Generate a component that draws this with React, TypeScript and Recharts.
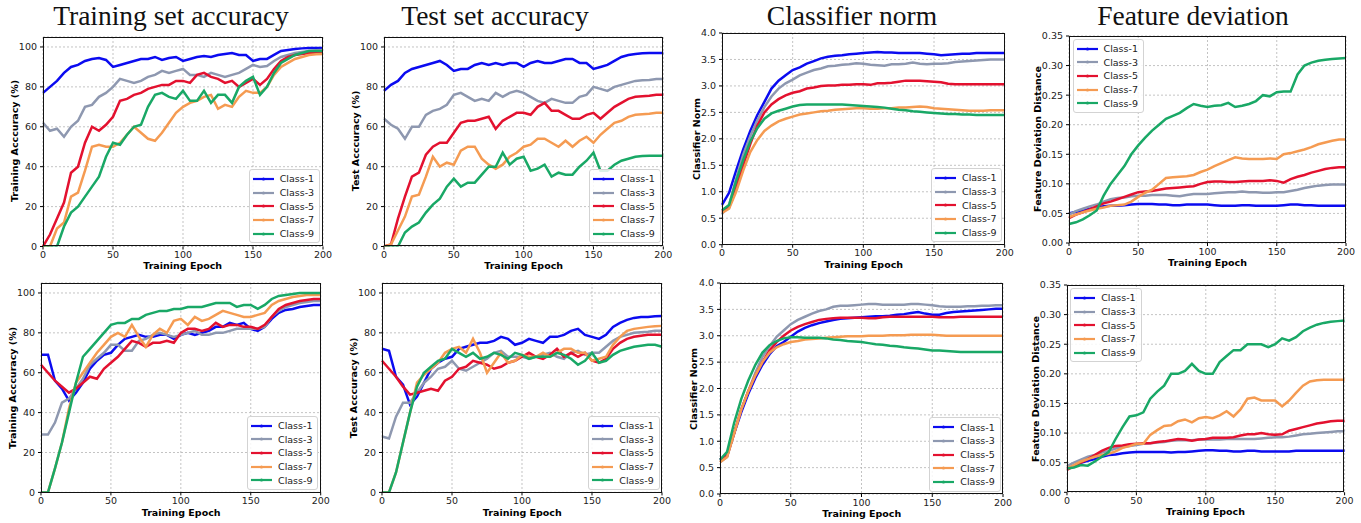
import React from 'react';
import { LineChart, Line, XAxis, YAxis, CartesianGrid } from 'recharts';

// epochs sampled every 5 steps
const EPOCHS = [
  0, 5, 10, 15, 20, 25, 30, 35, 40, 45, 50, 55, 60, 65, 70, 75, 80, 85, 90, 95, 100,
  105, 110, 115, 120, 125, 130, 135, 140, 145, 150, 155, 160, 165, 170, 175, 180, 185, 190, 195, 200,
];

const CLASS_NAMES = ['Class-1', 'Class-3', 'Class-5', 'Class-7', 'Class-9'];
const CLASS_COLORS = ['#0b0bf0', '#8e98b0', '#e3112f', '#f59b52', '#19a866'];

const X_TICKS = [0, 50, 100, 150, 200];
const ACC_TICKS = [0, 20, 40, 60, 80, 100];
const NORM_TICKS = [0, 0.5, 1, 1.5, 2, 2.5, 3, 3.5, 4];
const DEV_TICKS = [0, 0.05, 0.1, 0.15, 0.2, 0.25, 0.3, 0.35];

// ---- top row ----
const TRAIN_ACC_TOP = [
  [77, 80, 83, 87, 90, 91, 93, 94, 94.5, 93.5, 90, 91, 92, 93, 94, 94, 95, 93.5, 94.5, 95, 93, 94, 95, 95.5, 95, 96, 96.5, 97, 96, 96, 93, 94, 94, 96, 98, 98.5, 99, 99.3, 99.5, 99.5, 99.5],
  [62, 58, 59, 55, 60, 63, 70, 71, 75, 77, 80, 84, 83, 82, 83, 85, 86, 88, 87, 88, 89, 86, 86, 85, 87, 86, 85, 86, 87, 89, 91, 90, 90.5, 93, 95, 96, 97, 97.5, 98, 98.3, 98.5],
  [0, 6, 14, 22, 37, 40, 52, 60, 58, 61, 65, 73, 74, 76, 77, 79, 80, 81, 81, 83, 83, 82, 86, 87, 85, 84, 82, 83, 80, 82, 84, 81, 84, 89, 93, 95, 96, 96.5, 97, 97, 97],
  [0, 0, 9, 12, 25, 27, 38, 50, 51, 50, 50, 52, 56, 60, 57, 54, 53, 57, 62, 67, 70, 72, 73, 75, 76, 69, 71, 70, 75, 78, 77, 77, 80, 86, 90, 92, 94, 95, 96, 96.3, 96.5],
  [0, 0, 0, 10, 17, 20, 25, 30, 35, 45, 52, 51, 56, 60, 61, 70, 76, 77, 75, 74, 78, 73, 73, 78, 72, 76, 76, 72, 80, 83, 85, 76, 80, 87, 92, 94, 96, 97, 98, 98, 98],
];

const TEST_ACC_TOP = [
  [78, 81, 83, 87, 89, 90, 91, 92, 93, 91, 88, 89, 89, 91, 92, 91, 92, 91, 92, 92, 90, 92, 93, 92, 92, 93, 94, 94, 92, 92, 89, 90, 91, 93, 95, 96, 96.5, 96.8, 97, 97, 97],
  [64, 61, 59, 54, 60, 60, 66, 68, 69, 71, 76, 77, 75, 73, 74, 73, 77, 75, 77, 78, 77, 75, 73, 72, 74, 73, 72, 72, 75, 76, 80, 79, 78, 80, 81, 82, 83, 83.3, 83.5, 84, 84],
  [0, 1, 14, 25, 35, 37, 46, 50, 52, 52, 57, 62, 63, 63, 64, 65, 59, 63, 65, 67, 67, 66, 70, 72, 68, 68, 66, 64, 64, 66, 67, 64, 67, 70, 72, 74, 75, 75.3, 75.5, 76, 76],
  [0, 1, 8, 15, 25, 26, 35, 45, 40, 42, 41, 48, 50, 50, 44, 41, 39, 41, 45, 47, 50, 51, 54, 54, 52, 50, 53, 50, 53, 55, 52, 56, 59, 62, 63, 65, 66, 66.3, 66.5, 67, 67],
  [0, 0, 0, 7, 10, 12, 17, 21, 24, 30, 34, 30, 32, 32, 36, 40, 40, 47, 41, 44, 45, 38, 39, 41, 35, 37, 36, 36, 40, 43, 47, 38, 38, 41, 43, 44, 45, 45.3, 45.5, 45.5, 45.5],
];

const NORM_TOP = [
  [0.75, 0.98, 1.4, 1.8, 2.15, 2.45, 2.7, 2.95, 3.1, 3.2, 3.3, 3.35, 3.42, 3.47, 3.52, 3.55, 3.57, 3.58, 3.6, 3.61, 3.62, 3.63, 3.64, 3.63, 3.63, 3.62, 3.62, 3.62, 3.62, 3.61, 3.6, 3.58, 3.59, 3.6, 3.61, 3.61, 3.62, 3.62, 3.62, 3.62, 3.62],
  [0.58, 0.75, 1.25, 1.7, 2.05, 2.35, 2.6, 2.8, 2.95, 3.05, 3.12, 3.2, 3.25, 3.3, 3.33, 3.37, 3.38, 3.4, 3.41, 3.43, 3.42, 3.4, 3.39, 3.38, 3.41, 3.41, 3.42, 3.44, 3.42, 3.41, 3.42, 3.42, 3.43, 3.45, 3.46, 3.47, 3.48, 3.49, 3.5, 3.5, 3.5],
  [0.62, 0.7, 1.1, 1.5, 1.9, 2.25, 2.5, 2.65, 2.75, 2.82, 2.87, 2.9, 2.95, 2.97, 3.0, 3.01, 3.01, 3.02, 3.02, 3.03, 3.03, 3.02, 3.05, 3.05, 3.06, 3.08, 3.1, 3.1, 3.1, 3.09, 3.08, 3.07, 3.04, 3.03, 3.03, 3.03, 3.03, 3.03, 3.03, 3.03, 3.03],
  [0.6, 0.68, 1.0, 1.4, 1.75, 1.98, 2.15, 2.25, 2.33, 2.38, 2.42, 2.46, 2.48, 2.5, 2.52, 2.53, 2.55, 2.56, 2.57, 2.58, 2.58, 2.57, 2.57, 2.58, 2.58, 2.59, 2.59, 2.6, 2.61, 2.6, 2.58, 2.57, 2.56, 2.55, 2.54, 2.53, 2.53, 2.53, 2.54, 2.54, 2.54],
  [0.65, 0.75, 1.2, 1.6, 1.95, 2.2, 2.38, 2.48, 2.53, 2.57, 2.61, 2.64, 2.65, 2.65, 2.65, 2.65, 2.65, 2.65, 2.64, 2.63, 2.62, 2.61, 2.6, 2.59, 2.57, 2.55, 2.54, 2.52, 2.51, 2.5, 2.49, 2.48, 2.47, 2.47, 2.46, 2.46, 2.45, 2.45, 2.45, 2.45, 2.45],
];

const DEV_TOP = [
  [0.05, 0.053, 0.055, 0.058, 0.06, 0.062, 0.063, 0.063, 0.064, 0.065, 0.066, 0.066, 0.066, 0.065, 0.065, 0.064, 0.064, 0.065, 0.065, 0.065, 0.065, 0.064, 0.063, 0.063, 0.063, 0.064, 0.064, 0.063, 0.063, 0.063, 0.063, 0.064, 0.065, 0.065, 0.064, 0.064, 0.063, 0.063, 0.063, 0.063, 0.063],
  [0.048, 0.054, 0.058, 0.062, 0.065, 0.07, 0.074, 0.076, 0.077, 0.079, 0.08, 0.08, 0.081, 0.081, 0.081, 0.08, 0.079, 0.081, 0.083, 0.083, 0.083, 0.084, 0.085, 0.086, 0.086, 0.087, 0.086, 0.086, 0.085, 0.085, 0.086, 0.086, 0.088, 0.09, 0.093, 0.095, 0.097, 0.098, 0.099, 0.099, 0.099],
  [0.042, 0.048, 0.052, 0.057, 0.062, 0.067, 0.07, 0.074, 0.078, 0.082, 0.086, 0.087, 0.088, 0.09, 0.092, 0.093, 0.094, 0.095, 0.096, 0.1, 0.103, 0.104, 0.104, 0.103, 0.103, 0.104, 0.105, 0.105, 0.105, 0.106, 0.105, 0.102, 0.108, 0.112, 0.115, 0.119, 0.122, 0.125, 0.127, 0.128, 0.128],
  [0.044, 0.048, 0.052, 0.055, 0.058, 0.06, 0.063, 0.064, 0.065, 0.07, 0.078, 0.085, 0.09, 0.1, 0.11, 0.111, 0.112, 0.113, 0.115, 0.12, 0.124, 0.13, 0.135, 0.14, 0.145, 0.143, 0.142, 0.142, 0.142, 0.143, 0.142, 0.15, 0.152, 0.155, 0.158, 0.162, 0.167, 0.17, 0.173, 0.175, 0.175],
  [0.032, 0.035, 0.04, 0.047, 0.055, 0.08, 0.1, 0.115, 0.13, 0.15, 0.165, 0.178, 0.19, 0.2, 0.21, 0.215, 0.22, 0.228, 0.235, 0.232, 0.23, 0.232, 0.233, 0.237, 0.23, 0.232, 0.235, 0.24, 0.25, 0.248, 0.255, 0.256, 0.256, 0.285, 0.3, 0.305, 0.308, 0.31, 0.311, 0.312, 0.313],
];

// ---- bottom row ----
const TRAIN_ACC_BOTTOM = [
  [69, 69, 56, 52, 46, 50, 55, 62, 66, 69, 70, 74, 77, 78, 79, 78, 78, 79, 79, 77, 79, 80, 79, 80, 81, 83, 83, 85, 84, 85, 82, 81, 83, 87, 90, 91.5, 92, 93, 93.5, 94, 94],
  [29, 29, 35, 45, 47, 52, 57, 64, 67, 70, 74, 74, 71, 71, 76, 77, 79, 80, 79, 78, 79, 80, 81, 79, 79, 80, 80, 81, 82, 82, 82, 82, 83, 88, 91, 93, 94, 95, 95.5, 96, 96],
  [64, 60, 56, 53, 50, 52, 55, 58, 57, 62, 65, 68, 72, 76, 75, 73, 75, 75, 76, 75, 80, 82, 82, 81, 82, 85, 83, 84, 84, 83, 83, 82, 84, 88, 92, 94, 95, 96, 96.5, 97, 97],
  [0, 0, 12, 25, 42, 55, 60, 65, 70, 74, 78, 80, 78, 84, 78, 73, 79, 82, 80, 86, 87, 84, 88, 86, 87, 89, 91, 90, 89, 88, 88, 89, 90, 94, 96, 97, 98, 98.5, 99, 99, 99],
  [0, 0, 12, 25, 40, 55, 68, 72, 76, 80, 84, 85, 85, 87, 87, 89, 90, 91, 91, 92, 92, 93, 93, 93, 94, 95, 95, 95, 93, 94, 94, 92, 94, 97, 98.5, 99, 99.5, 100, 100, 100, 100],
];

const TEST_ACC_BOTTOM = [
  [72, 71, 58, 54, 44, 48, 55, 62, 65, 67, 68, 72, 73, 74, 75, 75, 76, 78, 77, 74, 75, 77, 76, 75, 78, 78, 79, 81, 82, 79, 78, 77, 79, 83, 85, 86.5, 87.5, 88, 88, 88.3, 88.5],
  [28, 27, 38, 45, 45, 50, 55, 58, 62, 63, 66, 62, 61, 63, 65, 67, 70, 71, 68, 68, 68, 67, 68, 69, 70, 68, 67, 70, 71, 69, 70, 70, 73, 76, 78, 79, 80, 80.3, 80.5, 81, 81],
  [66, 62, 58, 53, 49, 50, 51, 52, 51, 56, 58, 62, 63, 66, 65, 64, 62, 63, 65, 66, 68, 70, 68, 67, 69, 72, 68, 70, 68, 70, 66, 65, 67, 72, 75, 77, 78, 78.5, 79, 79, 79],
  [0, 0, 10, 25, 40, 55, 59, 62, 65, 70, 72, 73, 70, 77, 70, 60, 65, 70, 65, 66, 69, 68, 68, 70, 68, 70, 72, 72, 70, 70, 66, 67, 68, 74, 78, 81, 82, 82.5, 83, 83.3, 83.5],
  [0, 0, 10, 25, 40, 53, 60, 63, 66, 67, 72, 70, 68, 70, 67, 68, 70, 69, 67, 70, 69, 67, 68, 68, 68, 70, 69, 67, 64, 66, 70, 65, 66, 69, 71, 72, 73, 73.5, 74, 74, 73],
];

const NORM_BOTTOM = [
  [0.65, 0.75, 1.15, 1.55, 1.9, 2.2, 2.45, 2.65, 2.8, 2.88, 2.98, 3.08, 3.15, 3.2, 3.24, 3.27, 3.3, 3.32, 3.33, 3.34, 3.35, 3.36, 3.37, 3.37, 3.38, 3.4, 3.41, 3.43, 3.45, 3.42, 3.4, 3.4, 3.43, 3.45, 3.46, 3.47, 3.48, 3.49, 3.5, 3.51, 3.51],
  [0.6, 0.7, 1.15, 1.6, 1.95, 2.3, 2.6, 2.8, 2.98, 3.1, 3.22, 3.3, 3.36, 3.42, 3.47, 3.5, 3.55, 3.57, 3.57, 3.58, 3.59, 3.6, 3.6, 3.59, 3.59, 3.59, 3.59, 3.6, 3.6, 3.59, 3.58, 3.56, 3.55, 3.55, 3.55, 3.56, 3.56, 3.57, 3.57, 3.58, 3.58],
  [0.65, 0.72, 1.15, 1.6, 1.95, 2.25, 2.5, 2.72, 2.88, 3.0, 3.1, 3.17, 3.22, 3.26, 3.3, 3.32, 3.33, 3.34, 3.34, 3.34, 3.34, 3.33, 3.33, 3.35, 3.36, 3.36, 3.36, 3.36, 3.36, 3.36, 3.36, 3.35, 3.35, 3.35, 3.36, 3.36, 3.36, 3.36, 3.36, 3.36, 3.36],
  [0.6, 0.7, 1.15, 1.6, 1.95, 2.25, 2.5, 2.68, 2.78, 2.84, 2.88, 2.9, 2.93, 2.94, 2.95, 2.96, 2.97, 2.98, 2.99, 2.99, 2.99, 3.0, 3.0, 3.0, 3.01, 3.01, 3.01, 3.02, 3.02, 3.02, 3.02, 3.01, 3.0, 3.0, 3.0, 3.0, 3.0, 3.0, 3.0, 3.0, 3.0],
  [0.65, 0.8, 1.35, 1.8, 2.15, 2.45, 2.68, 2.82, 2.9, 2.95, 2.97, 2.97, 2.96, 2.96, 2.96, 2.95, 2.93, 2.92, 2.9, 2.89, 2.88, 2.86, 2.84, 2.83, 2.81, 2.8, 2.78, 2.77, 2.76, 2.74, 2.72, 2.72, 2.71, 2.7, 2.69, 2.69, 2.69, 2.69, 2.69, 2.69, 2.69],
];

const DEV_BOTTOM = [
  [0.04, 0.045, 0.05, 0.053, 0.056, 0.06, 0.063, 0.064, 0.066, 0.067, 0.068, 0.068, 0.068, 0.068, 0.068, 0.067, 0.068, 0.068, 0.069, 0.07, 0.071, 0.071, 0.07, 0.07, 0.069, 0.069, 0.07, 0.07, 0.069, 0.069, 0.069, 0.069, 0.069, 0.07, 0.07, 0.07, 0.07, 0.07, 0.07, 0.07, 0.07],
  [0.044, 0.05, 0.055, 0.06, 0.063, 0.067, 0.07, 0.074, 0.076, 0.078, 0.08, 0.082, 0.083, 0.084, 0.085, 0.087, 0.088, 0.088, 0.088, 0.089, 0.089, 0.089, 0.089, 0.09, 0.09, 0.09, 0.09, 0.09, 0.091, 0.092, 0.093, 0.093, 0.094, 0.096, 0.098, 0.099, 0.1, 0.101, 0.102, 0.103, 0.103],
  [0.038, 0.044, 0.05, 0.056, 0.063, 0.07, 0.075, 0.078, 0.079, 0.081, 0.082, 0.083, 0.083, 0.085, 0.086, 0.088, 0.09, 0.089, 0.087, 0.089, 0.09, 0.092, 0.092, 0.092, 0.093, 0.096, 0.098, 0.098, 0.1, 0.098, 0.097, 0.098, 0.104, 0.107, 0.11, 0.113, 0.116, 0.118, 0.12, 0.121, 0.121],
  [0.04, 0.046, 0.052, 0.056, 0.06, 0.063, 0.065, 0.069, 0.075, 0.078, 0.082, 0.082, 0.097, 0.105, 0.112, 0.113, 0.12, 0.123, 0.118, 0.125, 0.127, 0.125, 0.13, 0.137, 0.128, 0.14, 0.158, 0.16, 0.155, 0.155, 0.155, 0.145, 0.155, 0.168, 0.18, 0.187, 0.189, 0.19, 0.19, 0.19, 0.19],
  [0.04, 0.042, 0.046, 0.045, 0.052, 0.06, 0.068, 0.09, 0.11, 0.128, 0.13, 0.135, 0.158, 0.17, 0.18, 0.2, 0.2, 0.205, 0.217, 0.205, 0.2, 0.2, 0.22, 0.23, 0.24, 0.24, 0.25, 0.25, 0.25, 0.245, 0.25, 0.26, 0.256, 0.262, 0.272, 0.278, 0.283, 0.286, 0.288, 0.289, 0.29],
];

const TITLES = ['Training set accuracy', 'Test set accuracy', 'Classifier norm', 'Feature deviation'];
const TITLE_CENTERS = [171, 495, 852, 1193];

const SANS = '"DejaVu Sans", sans-serif';
const FONT_PX = 9.5;

const toRows = (series: number[][]) =>
  EPOCHS.map((epoch, i) => {
    const row: Record<string, number> = { epoch };
    series.forEach((s, k) => {
      row['s' + k] = s[i];
    });
    return row;
  });

const LegendBox = ({ style }: { style: React.CSSProperties }) => (
  <div
    style={{
      position: 'absolute',
      border: '1px solid #d3d3d3',
      borderRadius: 3,
      background: 'rgba(255,255,255,0.85)',
      padding: '2px 5px 2px 3px',
      fontFamily: SANS,
      fontSize: FONT_PX,
      color: '#222',
      ...style,
    }}
  >
    {CLASS_NAMES.map((name, k) => (
      <div key={name} style={{ display: 'flex', alignItems: 'center', height: 13.7 }}>
        <svg width={21} height={6} style={{ display: 'block' }}>
          <line x1={0} y1={3} x2={21} y2={3} stroke={CLASS_COLORS[k]} strokeWidth={2.2} />
          <circle cx={10.5} cy={3} r={1.6} fill={CLASS_COLORS[k]} />
        </svg>
        <span style={{ marginLeft: 6, whiteSpace: 'nowrap' }}>{name}</span>
      </div>
    ))}
  </div>
);

type PanelProps = {
  x: number;
  y: number;
  w: number;
  h: number;
  series: number[][];
  domain: [number, number];
  ticks: number[];
  digits: number;
  yLabel: string;
  yLabelX: number;
  legendTopLeft?: boolean;
};

const Panel = ({ x, y, w, h, series, domain, ticks, digits, yLabel, yLabelX, legendTopLeft }: PanelProps) => {
  const padL = 45;
  const padT = 6;
  const padR = 14;
  const axisH = 20;
  const data = toRows(series);
  const tickStyle = { fontSize: FONT_PX, fill: '#222', fontFamily: SANS };
  return (
    <>
      <div style={{ position: 'absolute', left: x - padL, top: y - padT }}>
        <LineChart
          width={w + padL + padR}
          height={h + padT + axisH}
          data={data}
          margin={{ top: padT, right: padR, left: 0, bottom: 0 }}
        >
          <CartesianGrid stroke="#b4b4b4" strokeDasharray="2 2" strokeWidth={0.8} />
          <XAxis
            type="number"
            dataKey="epoch"
            domain={[0, 200]}
            ticks={X_TICKS}
            interval={0}
            height={axisH}
            axisLine={false}
            tickSize={3}
            tickMargin={2}
            tickLine={{ stroke: '#000' }}
            tick={tickStyle}
          />
          <YAxis
            type="number"
            domain={domain}
            ticks={ticks}
            interval={0}
            width={padL}
            allowDataOverflow
            axisLine={false}
            tickSize={3}
            tickMargin={3}
            tickLine={{ stroke: '#000' }}
            tick={tickStyle}
            tickFormatter={(v: number) => v.toFixed(digits)}
          />
          {series.map((_, k) => (
            <Line
              key={k}
              type="linear"
              dataKey={'s' + k}
              stroke={CLASS_COLORS[k]}
              strokeWidth={2.5}
              dot={false}
              isAnimationActive={false}
            />
          ))}
        </LineChart>
      </div>
      <div
        style={{
          position: 'absolute',
          left: x,
          top: y,
          width: w,
          height: h,
          border: '1px solid #111',
          boxSizing: 'border-box',
          pointerEvents: 'none',
        }}
      />
      <LegendBox
        style={
          legendTopLeft
            ? { left: x + 3.5, top: y + 3 }
            : { left: x + w - 74, top: y + h - 77 }
        }
      />
      <div
        style={{
          position: 'absolute',
          left: x + w / 2,
          top: y + h + 19,
          transform: 'translate(-50%, -50%)',
          fontFamily: SANS,
          fontWeight: 'bold',
          fontSize: FONT_PX,
          whiteSpace: 'nowrap',
        }}
      >
        Training Epoch
      </div>
      <div
        style={{
          position: 'absolute',
          left: yLabelX,
          top: y + h / 2,
          transform: 'translate(-50%, -50%) rotate(-90deg)',
          fontFamily: SANS,
          fontWeight: 'bold',
          fontSize: FONT_PX,
          whiteSpace: 'nowrap',
        }}
      >
        {yLabel}
      </div>
    </>
  );
};

export default function App() {
  return (
    <div
      style={{
        position: 'absolute',
        left: 0,
        top: 0,
        width: 1361,
        height: 523,
        background: '#fff',
        overflow: 'hidden',
      }}
    >
      {TITLES.map((t, i) => (
        <div
          key={t}
          style={{
            position: 'absolute',
            left: TITLE_CENTERS[i],
            top: 2,
            transform: 'translateX(-50%)',
            fontFamily: '"Liberation Serif", serif',
            fontSize: 27.5,
            lineHeight: '27px',
            whiteSpace: 'nowrap',
            color: '#111',
          }}
        >
          {t}
        </div>
      ))}

      <Panel x={42.7} y={36.5} w={280} h={209.5} series={TRAIN_ACC_TOP} domain={[0, 105]} ticks={ACC_TICKS} digits={0} yLabel="Training Acccuracy (%)" yLabelX={14} />
      <Panel x={384} y={36.5} w={279.3} h={209.5} series={TEST_ACC_TOP} domain={[0, 105]} ticks={ACC_TICKS} digits={0} yLabel="Test Acccuracy (%)" yLabelX={355} />
      <Panel x={722.3} y={33.3} w={282.7} h={211.7} series={NORM_TOP} domain={[0, 4]} ticks={NORM_TICKS} digits={1} yLabel="Classifier Norm" yLabelX={696} />
      <Panel x={1069} y={35.7} w={277} h={207} series={DEV_TOP} domain={[0, 0.35]} ticks={DEV_TICKS} digits={2} yLabel="Feature Deviation Distance" yLabelX={1036.7} legendTopLeft />

      <Panel x={41.3} y={283.3} w={279.7} h={209.4} series={TRAIN_ACC_BOTTOM} domain={[0, 105]} ticks={ACC_TICKS} digits={0} yLabel="Training Acccuracy (%)" yLabelX={12} />
      <Panel x={382.3} y={283.3} w={280} h={209.4} series={TEST_ACC_BOTTOM} domain={[0, 105]} ticks={ACC_TICKS} digits={0} yLabel="Test Acccuracy (%)" yLabelX={352.7} />
      <Panel x={720.3} y={283.3} w={283} h={211} series={NORM_BOTTOM} domain={[0, 4]} ticks={NORM_TICKS} digits={1} yLabel="Classifier Norm" yLabelX={693.3} />
      <Panel x={1066.7} y={285} w={277.6} h={207.3} series={DEV_BOTTOM} domain={[0, 0.35]} ticks={DEV_TICKS} digits={2} yLabel="Feature Deviation Distance" yLabelX={1035} legendTopLeft />
    </div>
  );
}
